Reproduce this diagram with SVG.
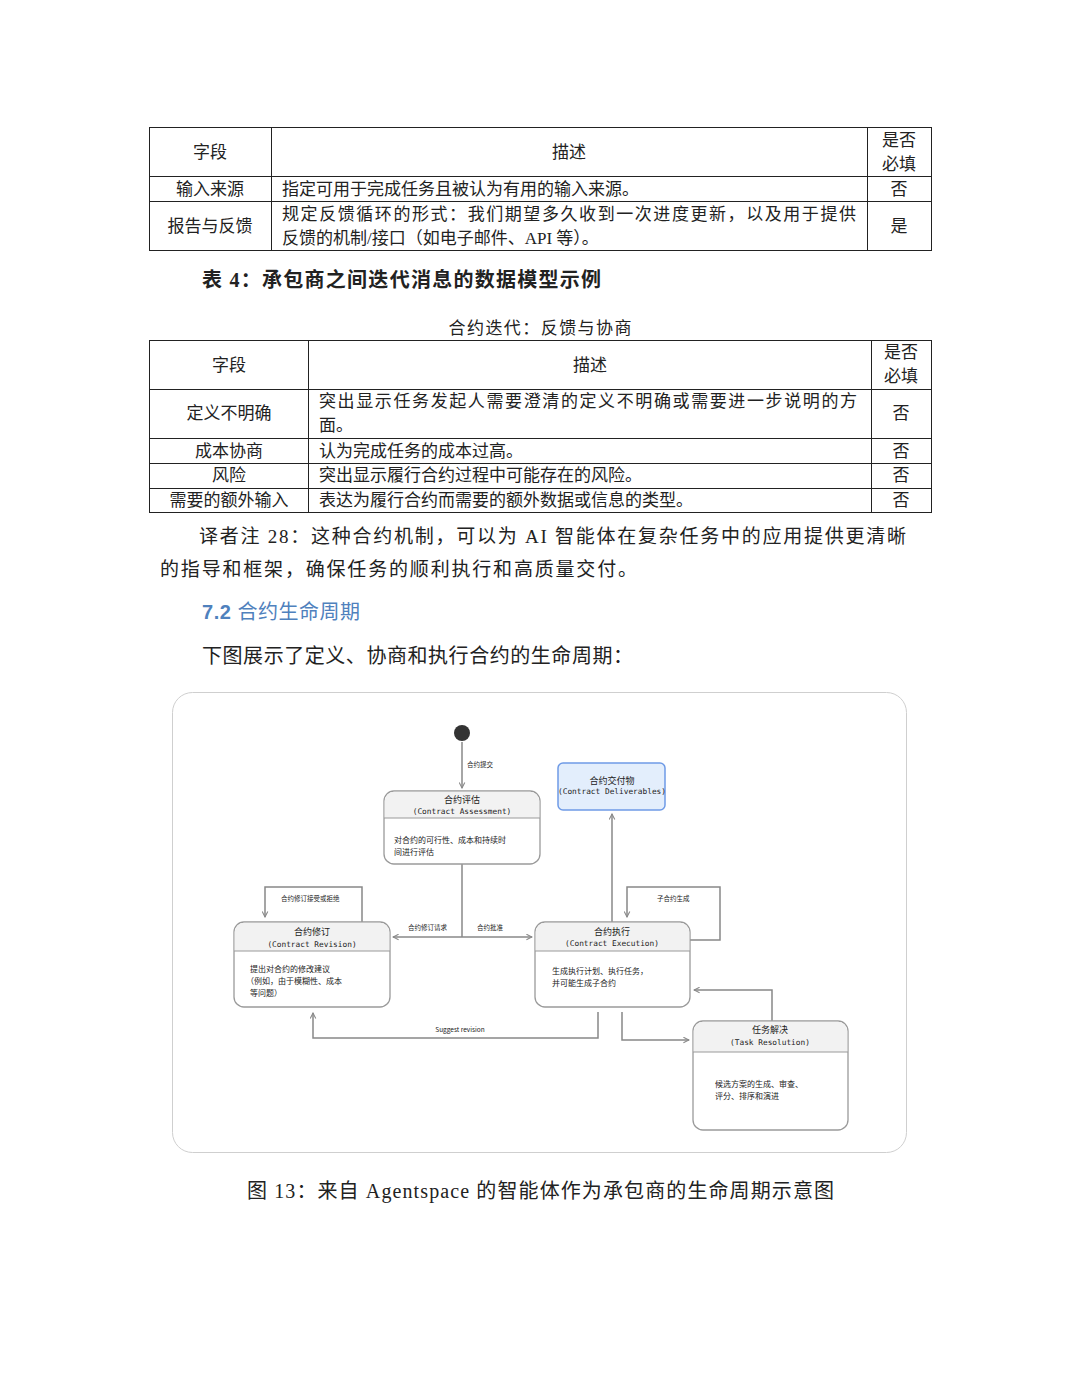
<svg xmlns="http://www.w3.org/2000/svg" width="1080" height="1398" viewBox="0 0 1080 1398">
<style>
.t{font-family:"Liberation Serif","Noto Sans CJK SC",serif;font-size:17px;fill:#222}
.c{text-anchor:middle}
.b{font-family:"Liberation Serif","Noto Sans CJK SC",serif;fill:#222}
.grid{stroke:#222;stroke-width:1;fill:none}
.node{fill:#fff;stroke:#9a9a9a;stroke-width:1.3}
.hdr{fill:#f2f2f2}
.nt{font-family:"Noto Sans CJK SC",sans-serif;font-size:9px;fill:#222;text-anchor:middle}
.ne{font-family:"DejaVu Sans Mono","Liberation Mono",monospace;font-size:7.8px;fill:#222;text-anchor:middle}
.nb{font-family:"Noto Sans CJK SC",sans-serif;font-size:8px;fill:#222}
.lb{font-family:"Noto Sans CJK SC",sans-serif;font-size:6.5px;fill:#222}
.cn{fill:none;stroke:#888;stroke-width:1.5}
</style>
<defs>
<marker id="ah" viewBox="0 0 10 10" refX="9" refY="5" markerWidth="7" markerHeight="7" orient="auto-start-reverse" markerUnits="userSpaceOnUse">
<path d="M1,1 L9,5 L1,9" fill="none" stroke="#888" stroke-width="1.5"/>
</marker>
</defs>
<rect width="1080" height="1398" fill="#fff"/>

<g id="table1">
<rect class="grid" x="149.500" y="127.500" width="782" height="123"/>
<line class="grid" x1="149" y1="176.500" x2="931" y2="176.500"/>
<line class="grid" x1="149" y1="201.500" x2="931" y2="201.500"/>
<line class="grid" x1="271.500" y1="127" x2="271.500" y2="250"/>
<line class="grid" x1="867.500" y1="127" x2="867.500" y2="250"/>
<text class="t c" x="210" y="158">字段</text>
<text class="t c" x="569" y="158">描述</text>
<text class="t c" x="899" y="146">是否</text>
<text class="t c" x="899" y="170">必填</text>
<text class="t c" x="210" y="195">输入来源</text>
<text class="t" x="282" y="195">指定可用于完成任务且被认为有用的输入来源。</text>
<text class="t c" x="899" y="195">否</text>
<text class="t c" x="210" y="232">报告与反馈</text>
<text class="t" x="282" y="220" textLength="574" lengthAdjust="spacing">规定反馈循环的形式：我们期望多久收到一次进度更新，以及用于提供</text>
<text class="t" x="282" y="244">反馈的机制/接口（如电子邮件、API 等）。</text>
<text class="t c" x="899" y="232">是</text>
</g>

<text class="b" x="202" y="287" font-size="20" font-weight="bold" textLength="399" lengthAdjust="spacing">表 4：承包商之间迭代消息的数据模型示例</text>
<text class="t c" x="540" y="334" textLength="183" lengthAdjust="spacing">合约迭代：反馈与协商</text>

<g id="table2">
<rect class="grid" x="149.500" y="340.500" width="782" height="172"/>
<line class="grid" x1="149" y1="389.500" x2="931" y2="389.500"/>
<line class="grid" x1="149" y1="438.500" x2="931" y2="438.500"/>
<line class="grid" x1="149" y1="463.500" x2="931" y2="463.500"/>
<line class="grid" x1="149" y1="488.500" x2="931" y2="488.500"/>
<line class="grid" x1="308.500" y1="340" x2="308.500" y2="512"/>
<line class="grid" x1="871.500" y1="340" x2="871.500" y2="512"/>
<text class="t c" x="229" y="371">字段</text>
<text class="t c" x="590" y="371">描述</text>
<text class="t c" x="901" y="358">是否</text>
<text class="t c" x="901" y="382">必填</text>
<text class="t c" x="229" y="419">定义不明确</text>
<text class="t" x="319" y="407" textLength="538" lengthAdjust="spacing">突出显示任务发起人需要澄清的定义不明确或需要进一步说明的方</text>
<text class="t" x="319" y="431">面。</text>
<text class="t c" x="901" y="419">否</text>
<text class="t c" x="229" y="457">成本协商</text>
<text class="t" x="319" y="457">认为完成任务的成本过高。</text>
<text class="t c" x="901" y="457">否</text>
<text class="t c" x="229" y="481">风险</text>
<text class="t" x="319" y="481">突出显示履行合约过程中可能存在的风险。</text>
<text class="t c" x="901" y="481">否</text>
<text class="t c" x="229" y="506">需要的额外输入</text>
<text class="t" x="319" y="506">表达为履行合约而需要的额外数据或信息的类型。</text>
<text class="t c" x="901" y="506">否</text>
</g>

<text class="b" x="199" y="543" font-size="19" textLength="707" lengthAdjust="spacing">译者注 28：这种合约机制，可以为 AI 智能体在复杂任务中的应用提供更清晰</text>
<text class="b" x="160" y="576" font-size="19" textLength="477" lengthAdjust="spacing">的指导和框架，确保任务的顺利执行和高质量交付。</text>
<text x="202" y="619" font-family="Liberation Sans,Noto Sans CJK SC,sans-serif" font-size="20" fill="#4f81bd" textLength="158" lengthAdjust="spacing"><tspan font-weight="bold">7.2</tspan> 合约生命周期</text>
<text class="b" x="202" y="663" font-size="20" textLength="431" lengthAdjust="spacing">下图展示了定义、协商和执行合约的生命周期：</text>

<rect x="172.500" y="692.500" width="734" height="460" rx="20" fill="#fff" stroke="#cfcfcf" stroke-width="1"/>

<g id="connectors">
<line class="cn" x1="462" y1="742" x2="462" y2="788" marker-end="url(#ah)"/>
<text class="lb" x="467" y="767">合约提交</text>
<line class="cn" x1="462" y1="864" x2="462" y2="937"/>
<line class="cn" x1="393" y1="937" x2="532" y2="937" marker-start="url(#ah)" marker-end="url(#ah)"/>
<text class="lb" x="408" y="930">合约修订请求</text>
<text class="lb" x="477" y="930">合约批准</text>
<polyline class="cn" points="362,922 362,887 265,887 265,917" marker-end="url(#ah)"/>
<text class="lb" x="281" y="901">合约修订接受或拒绝</text>
<polyline class="cn" points="690,940 720,940 720,887 627,887 627,917" marker-end="url(#ah)"/>
<text class="lb" x="657" y="901">子合约生成</text>
<line class="cn" x1="612" y1="922" x2="612" y2="814" marker-end="url(#ah)"/>
<polyline class="cn" points="772,1021 772,990 694,990" marker-end="url(#ah)"/>
<polyline class="cn" points="622,1012 622,1040 689,1040" marker-end="url(#ah)"/>
<polyline class="cn" points="598,1012 598,1038 313,1038 313,1013" marker-end="url(#ah)"/>
<text class="lb" x="460" y="1032" text-anchor="middle" font-family="Liberation Sans,sans-serif">Suggest revision</text>
</g>

<g id="start"><circle cx="462" cy="733" r="8" fill="#333"/></g>

<g id="assessment">
<rect class="node" x="384" y="791" width="156" height="73" rx="10"/>
<path class="hdr" d="M394.700,791.700 H529.300 A9.300,9.300 0 0 1 539.300,801 V818 H384.700 V801 A9.300,9.300 0 0 1 394.700,791.700 Z"/>
<line x1="384" y1="818" x2="540" y2="818" stroke="#9a9a9a" stroke-width="1"/>
<text class="nt" x="462" y="803">合约评估</text>
<text class="ne" x="462" y="814">(Contract Assessment)</text>
<text class="nb" x="394" y="843">对合约的可行性、成本和持续时</text>
<text class="nb" x="394" y="855">间进行评估</text>
</g>

<g id="deliverables">
<rect x="558" y="763" width="107" height="47" rx="5" fill="#e3eefc" stroke="#6f9be6" stroke-width="1.5"/>
<text class="nt" x="612" y="784">合约交付物</text>
<text class="ne" x="612" y="794" font-size="5.2">(Contract Deliverables)</text>
</g>

<g id="revision">
<rect class="node" x="234" y="922" width="156" height="85" rx="10"/>
<path class="hdr" d="M244.700,922.700 H379.300 A9.300,9.300 0 0 1 389.300,932 V951 H234.700 V932 A9.300,9.300 0 0 1 244.700,922.700 Z"/>
<line x1="234" y1="951" x2="390" y2="951" stroke="#9a9a9a" stroke-width="1"/>
<text class="nt" x="312" y="935">合约修订</text>
<text class="ne" x="312" y="947">(Contract Revision)</text>
<text class="nb" x="250" y="972">提出对合约的修改建议</text>
<text class="nb" x="246" y="984">（例如，由于模糊性、成本</text>
<text class="nb" x="250" y="996">等问题）</text>
</g>

<g id="execution">
<rect class="node" x="535" y="922" width="155" height="85" rx="10"/>
<path class="hdr" d="M545.700,922.700 H679.300 A9.300,9.300 0 0 1 689.300,932 V951 H535.700 V932 A9.300,9.300 0 0 1 545.700,922.700 Z"/>
<line x1="535" y1="951" x2="690" y2="951" stroke="#9a9a9a" stroke-width="1"/>
<text class="nt" x="612" y="935">合约执行</text>
<text class="ne" x="612" y="946">(Contract Execution)</text>
<text class="nb" x="552" y="974">生成执行计划、执行任务，</text>
<text class="nb" x="552" y="986">并可能生成子合约</text>
</g>

<g id="resolution">
<rect class="node" x="693" y="1021" width="155" height="109" rx="10"/>
<path class="hdr" d="M703.700,1021.700 H837.300 A9.300,9.300 0 0 1 847.300,1031 V1052 H693.700 V1031 A9.300,9.300 0 0 1 703.700,1021.700 Z"/>
<line x1="693" y1="1052" x2="848" y2="1052" stroke="#9a9a9a" stroke-width="1"/>
<text class="nt" x="770" y="1033">任务解决</text>
<text class="ne" x="770" y="1045">(Task Resolution)</text>
<text class="nb" x="715" y="1087">候选方案的生成、审查、</text>
<text class="nb" x="715" y="1099">评分、排序和演进</text>
</g>

<text class="b" x="247" y="1198" font-size="20" textLength="587" lengthAdjust="spacing">图 13：来自 Agentspace 的智能体作为承包商的生命周期示意图</text>
</svg>
